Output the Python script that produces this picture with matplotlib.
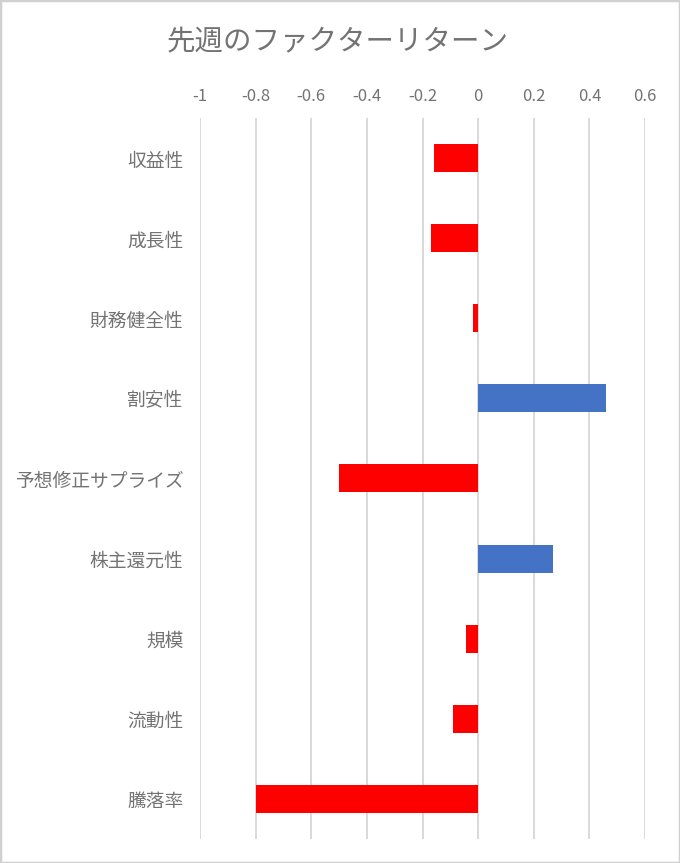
import matplotlib
matplotlib.use("Agg")
import matplotlib.pyplot as plt
from matplotlib.patches import Rectangle

plt.rcParams['font.family'] = ['Noto Sans CJK JP', 'DejaVu Sans']

categories = ["収益性", "成長性", "財務健全性", "割安性", "予想修正サプライズ",
              "株主還元性", "規模", "流動性", "騰落率"]
values = [-0.16, -0.17, -0.02, 0.46, -0.50, 0.27, -0.045, -0.09, -0.80]
xticks = [-1, -0.8, -0.6, -0.4, -0.2, 0, 0.2, 0.4, 0.6]
xticklabels = ["-1", "-0.8", "-0.6", "-0.4", "-0.2", "0", "0.2", "0.4", "0.6"]
title = "先週のファクターリターン"

RED = "#FF0000"
BLUE = "#4472C4"
TXT = "#737373"
GRID = "#D9D9D9"

fig = plt.figure(figsize=(6.8, 8.63), dpi=100)
fig.patch.set_facecolor("white")
ax = fig.add_axes([200/680, 1-838.5/863, 445/680, 720/863])

colors = [BLUE if v > 0 else RED for v in values]
ypos = list(range(len(categories)))
ax.barh(ypos, values, height=0.35, color=colors, zorder=3)

ax.set_xlim(-1, 0.6)
ax.set_ylim(len(categories) - 0.5, -0.5)
ax.set_xticks(xticks)
ax.set_xticklabels(xticklabels)
ax.xaxis.tick_top()
ax.tick_params(axis="x", length=0, pad=9.5, labelsize=12, labelcolor=TXT)
ax.set_yticks(ypos)
ax.set_yticklabels(categories)
ax.tick_params(axis="y", length=0, pad=12, labelsize=13.5, labelcolor=TXT)
ax.grid(axis="x", color=GRID, linewidth=1.4, zorder=0)
for s in ax.spines.values():
    s.set_visible(False)

fig.text(338/680, 1 - 42/863, title, ha="center", va="center",
         fontsize=20.5, color=TXT)

fig.patches.append(Rectangle((0, 0), 1, 1, transform=fig.transFigure,
                             fill=False, edgecolor="#D0D0D0", linewidth=2.5))

fig.savefig("out.png", dpi=100)
